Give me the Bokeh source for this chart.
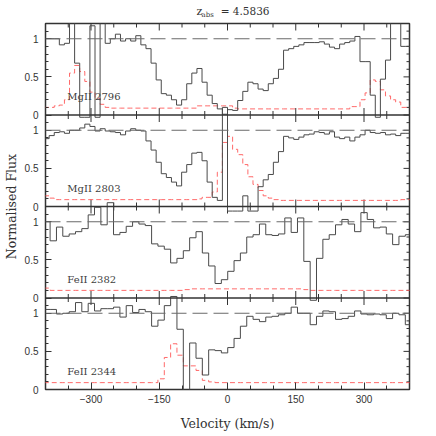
import numpy as np
from bokeh.plotting import figure
from bokeh.layouts import column
from bokeh.models import FixedTicker, Span
from bokeh.embed import file_html
from bokeh.resources import INLINE
from bokeh.core.properties import value

# ---------------- data ----------------
# velocity pixel edges (km/s), MgII spectra
vel_mg = [-403.2, -392.0, -380.8, -369.6, -358.4, -347.2, -336.0, -324.8, -313.6, -302.4,
          -291.2, -280.0, -268.8, -257.6, -246.4, -235.2, -224.0, -212.8, -201.6, -190.4,
          -179.2, -168.0, -156.8, -145.6, -134.4, -123.2, -112.0, -100.8, -89.6, -78.4,
          -67.2, -56.0, -44.8, -33.6, -22.4, -11.2, 0.0, 11.2, 22.4, 33.6,
          44.8, 56.0, 67.2, 78.4, 89.6, 100.8, 112.0, 123.2, 134.4, 145.6,
          156.8, 168.0, 179.2, 190.4, 201.6, 212.8, 224.0, 235.2, 246.4, 257.6,
          268.8, 280.0, 291.2, 302.4, 313.6, 324.8, 336.0, 347.2, 358.4, 369.6,
          380.8, 392.0, 403.2]
# velocity pixel edges (km/s), FeII spectra
vel_fe = [-403.8, -389.9, -375.9, -362.0, -348.0, -334.1, -320.2, -306.2, -292.3, -278.3,
          -264.4, -250.5, -236.5, -222.6, -208.6, -194.7, -180.8, -166.8, -152.9, -138.9,
          -125.0, -111.1, -97.1, -83.2, -69.2, -55.3, -41.4, -27.4, -13.5, 0.5,
          14.4, 28.3, 42.3, 56.2, 70.2, 84.1, 98.0, 112.0, 125.9, 139.9,
          153.8, 167.7, 181.7, 195.6, 209.6, 223.5, 237.4, 251.4, 265.3, 279.3,
          293.2, 307.1, 321.1, 335.0, 349.0, 362.9, 376.8, 390.8, 404.7]

flux_mg2796 = [1.0, 1.0, 1.0, 0.92, 0.94, 1.5, 0.68, -0.03, -0.03, 1.17,
               -0.03, 1.5, 0.94, 1.0, 1.06, 0.97, 1.0, 0.97, 1.04, 0.92,
               0.87, 0.68, 0.46, 0.28, 0.26, 0.2, 0.13, 0.2, 0.41, 0.55,
               0.61, 0.43, 0.26, 0.15, 0.08, 0.01, 0.07, 0.06, 0.19, 0.31,
               0.43, 0.41, 0.34, 0.32, 0.41, 0.48, 0.60, 0.85, 0.87, 0.90,
               0.92, 0.95, 0.95, 0.95, 0.96, 0.93, 0.89, 0.87, 0.93, 0.95,
               0.97, 1.03, 0.70, 0.70, 0.26, -0.03, 0.47, 0.72, 1.5, 1.5,
               0.9, 0.9]
err_mg2796 = [0.10, 0.10, 0.12, 0.13, 0.20, 0.55, 0.65, 0.57, 0.44, 0.30,
              0.22, 0.14, 0.10, 0.09, 0.09, 0.09, 0.09, 0.09, 0.09, 0.09,
              0.09, 0.09, 0.09, 0.09, 0.09, 0.09, 0.09, 0.09, 0.09, 0.09,
              0.12, 0.12, 0.12, 0.12, 0.12, 0.12, 0.12, 0.09, 0.08, 0.08,
              0.08, 0.08, 0.08, 0.08, 0.08, 0.08, 0.08, 0.08, 0.08, 0.08,
              0.08, 0.08, 0.08, 0.08, 0.08, 0.08, 0.08, 0.08, 0.08, 0.08,
              0.11, 0.11, 0.20, 0.29, 0.46, 0.44, 0.33, 0.25, 0.20, 0.17,
              0.10, 0.10]

flux_mg2803 = [0.89, 0.93, 0.97, 0.98, 0.96, 1.0, 1.0, 1.03, 1.08, 1.05,
               0.99, 1.02, 0.99, 0.98, 0.97, 0.94, 0.99, 1.02, 1.0, 0.99,
               0.86, 0.74, 0.58, 0.43, 0.38, 0.32, 0.27, 0.45, 0.55, 0.70,
               0.71, 0.60, 0.32, 0.12, 0.08, 1.3, -0.06, -0.06, -0.06, 0.14,
               -0.06, -0.06, 0.26, 0.35, 0.42, 0.58, 0.72, 0.92, 0.90, 0.88,
               0.91, 0.94, 0.95, 0.98, 0.97, 0.95, 0.98, 0.91, 0.89, 0.91,
               0.86, 0.91, 0.94, 1.0, 0.97, 0.96, 0.97, 0.94, 0.95, 0.93,
               0.96, 0.96]
err_mg2803 = [0.14, 0.11, 0.09, 0.09, 0.09, 0.09, 0.09, 0.09, 0.09, 0.09,
              0.09, 0.09, 0.09, 0.09, 0.09, 0.09, 0.09, 0.09, 0.09, 0.09,
              0.09, 0.09, 0.09, 0.09, 0.09, 0.09, 0.09, 0.09, 0.09, 0.09,
              0.10, 0.12, 0.12, 0.19, 0.45, 0.84, 0.92, 0.75, 0.68, 0.55,
              0.39, 0.29, 0.21, 0.14, 0.11, 0.09, 0.08, 0.08, 0.08, 0.08,
              0.08, 0.08, 0.08, 0.08, 0.08, 0.08, 0.08, 0.08, 0.08, 0.08,
              0.08, 0.08, 0.08, 0.08, 0.08, 0.08, 0.08, 0.08, 0.08, 0.08,
              0.09, 0.09]

flux_fe2382 = [1.0, 0.75, 0.93, 0.81, 0.84, 0.87, 0.91, 1.09, 1.19, 0.96,
               1.25, 0.83, 0.86, 0.94, 1.0, 0.97, 0.95, 0.71, 0.68, 0.64,
               0.46, 0.52, 0.62, 0.79, 0.87, 0.59, 0.42, 0.19, 0.24, 0.35,
               0.49, 0.59, 0.80, 0.83, 0.97, 0.83, 0.82, 0.84, 1.05, 0.86,
               1.05, 0.48, -0.03, 0.52, 0.77, 0.83, 0.96, 1.03, 0.97, 0.87,
               1.12, 1.03, 0.92, 0.93, 0.84, 0.70, 0.81, 0.83]
err_fe2382 = [0.13, 0.10, 0.10, 0.10, 0.10, 0.10, 0.10, 0.10, 0.10, 0.10,
              0.10, 0.10, 0.10, 0.10, 0.10, 0.10, 0.10, 0.10, 0.10, 0.10,
              0.10, 0.10, 0.11, 0.12, 0.12, 0.12, 0.12, 0.12, 0.12, 0.12,
              0.12, 0.12, 0.12, 0.12, 0.12, 0.12, 0.12, 0.12, 0.12, 0.12,
              0.12, 0.11, 0.10, 0.10, 0.10, 0.10, 0.10, 0.10, 0.10, 0.10,
              0.10, 0.10, 0.10, 0.10, 0.10, 0.10, 0.10, 0.10]

flux_fe2344 = [1.05, 1.05, 0.99, 1.0, 1.02, 1.14, 1.02, 1.13, 1.03, 1.06,
               1.06, 1.08, 0.95, 1.10, 1.01, 1.05, 1.02, 0.83, 0.91, 1.10,
               1.22, 0.79, -0.1, 0.61, 0.41, 0.19, 0.52, 0.51, 0.48, 0.55,
               0.67, 0.83, 0.96, 0.92, 0.89, 0.95, 0.96, 0.98, 1.0, 1.08,
               1.0, 1.0, 0.85, 0.96, 1.03, 1.02, 0.92, 0.93, 0.96, 1.03,
               0.99, 0.98, 0.99, 0.98, 0.93, 1.0, 0.98, 0.85]
err_fe2344 = [0.09, 0.09, 0.09, 0.09, 0.09, 0.09, 0.09, 0.09, 0.09, 0.09,
              0.09, 0.09, 0.09, 0.09, 0.09, 0.09, 0.09, 0.09, 0.14, 0.42,
              0.60, 0.45, 0.31, 0.31, 0.25, 0.12, 0.10, 0.09, 0.09, 0.09,
              0.09, 0.09, 0.09, 0.09, 0.09, 0.09, 0.09, 0.09, 0.09, 0.09,
              0.09, 0.09, 0.09, 0.09, 0.09, 0.09, 0.09, 0.09, 0.09, 0.09,
              0.09, 0.09, 0.09, 0.09, 0.09, 0.09, 0.09, 0.09]

line_labels = ["MgII 2796", "MgII 2803", "FeII 2382", "FeII 2344"]
title_parts = ["z", "abs", "=  4.5836"]
x_major = [-300, -150, 0, 150, 300]
x_minor = [-350, -250, -200, -100, -50, 50, 100, 200, 250, 350]
y_major = [0, 0.5, 1]
y_major_labels = ["0", "0.5", "1"]
continuum = 1.0

# ---------------- layout ----------------
PANEL_H = 1.2
N = 4
FRAME_W, FRAME_H = 364, 366
XMIN, XMAX = -400, 400
YMAX = PANEL_H * N
ypx = YMAX / FRAME_H                  # data units per pixel (vertical)
xpx = (XMAX - XMIN) / FRAME_W         # data units per pixel (horizontal)
TITLE_H = 21
BORDER_L, BORDER_R = 39, 17

panels = [
    (vel_mg, flux_mg2796, err_mg2796),
    (vel_mg, flux_mg2803, err_mg2803),
    (vel_fe, flux_fe2382, err_fe2382),
    (vel_fe, flux_fe2344, err_fe2344),
]
offsets = [round((N - 1 - i) * PANEL_H, 6) for i in range(N)]

SERIF = "DejaVu Serif"
SANS = "Liberation Sans"
INK = "#333333"

# ---------- title strip ----------
t = figure(frame_width=FRAME_W, frame_height=TITLE_H, x_range=(XMIN, XMAX),
           y_range=(0, TITLE_H), output_backend="svg", toolbar_location=None,
           title=None, x_axis_location=None, y_axis_location=None,
           min_border_left=BORDER_L, min_border_right=BORDER_R,
           min_border_top=0, min_border_bottom=0)
t.outline_line_color = None
t.grid.visible = False
t.text(x=[-68], y=[10.5], text=[title_parts[0]], text_font=value(SERIF),
       text_font_size="11px", text_color=INK, text_baseline="middle")
t.text(x=[-57], y=[7.0], text=[title_parts[1]], text_font=value(SERIF),
       text_font_size="7px", text_color=INK, text_baseline="middle")
t.text(x=[-15], y=[10.5], text=[title_parts[2]], text_font=value(SERIF),
       text_font_size="10.5px", text_color=INK, text_baseline="middle")

# ---------- main stacked panels ----------
p = figure(frame_width=FRAME_W, frame_height=FRAME_H,
           x_range=(XMIN, XMAX), y_range=(0, YMAX), title=None,
           output_backend="svg", toolbar_location=None,
           min_border_left=BORDER_L, min_border_right=BORDER_R,
           min_border_top=2, min_border_bottom=39)
p.grid.visible = False
p.outline_line_color = INK
p.outline_line_width = 1.5

yt_major, yt_minor, yt_over = [], [], {}
for o in offsets:
    for tv, lab in zip(y_major, y_major_labels):
        v = round(o + tv, 6)
        yt_major.append(v)
        yt_over[v] = lab
    for m in range(1, 12):
        if m in (5, 10):
            continue
        yt_minor.append(round(o + 0.1 * m, 6))
yt_major = sorted(yt_major)
x_over = {tv: (("\u2212" + str(abs(tv))) if tv < 0 else str(tv)) for tv in x_major}

def style_axis(ax):
    ax.major_tick_in = 7
    ax.major_tick_out = 0
    ax.minor_tick_in = 4
    ax.minor_tick_out = 0
    ax.major_tick_line_color = INK
    ax.minor_tick_line_color = INK
    ax.axis_line_color = None
    ax.major_label_text_font = SANS
    ax.major_label_text_font_size = "10px"
    ax.major_label_text_color = INK
    ax.axis_label_text_font = SERIF
    ax.axis_label_text_font_size = "12.5px"
    ax.axis_label_text_font_style = "normal"
    ax.axis_label_text_color = INK

yl = p.yaxis[0]
yl.ticker = FixedTicker(ticks=yt_major, minor_ticks=yt_minor)
yl.major_label_overrides = yt_over
style_axis(yl)
yl.major_tick_in = 6
yl.minor_tick_in = 3
yl.major_label_standoff = 7
yl.axis_label = "Normalised Flux"
yl.axis_label_standoff = 3

xb = p.xaxis[0]
xb.ticker = FixedTicker(ticks=x_major, minor_ticks=x_minor)
xb.major_label_overrides = x_over
style_axis(xb)
xb.major_label_standoff = 5
xb.axis_label = "Velocity (km/s)"
xb.axis_label_standoff = 10

# ticks on the top edge
for ticks, L in ((x_major, 7 * ypx), (x_minor, 4 * ypx)):
    p.segment(x0=ticks, y0=[YMAX - L] * len(ticks), x1=ticks, y1=[YMAX] * len(ticks),
              line_color=INK, line_width=1)
# ticks on the right edge
for ticks, L in ((yt_major, 6 * xpx), (yt_minor, 3 * xpx)):
    p.segment(x0=[XMAX - L] * len(ticks), y0=ticks, x1=[XMAX] * len(ticks), y1=ticks,
              line_color=INK, line_width=1)

# internal panel boundaries with ticks on both sides
for b in offsets[:-1]:
    p.add_layout(Span(location=b, dimension="width", line_color=INK, line_width=1.5))
    for ticks, L in ((x_major, 7 * ypx), (x_minor, 4 * ypx)):
        p.segment(x0=ticks, y0=[b - L] * len(ticks), x1=ticks, y1=[b + L] * len(ticks),
                  line_color=INK, line_width=1)

# spectra
for (vel, flux, err), o in zip(panels, offsets):
    x = np.array(vel)
    f = np.append(flux, flux[-1]) + o
    e = np.append(err, err[-1]) + o
    p.step(x, e, mode="after", line_color="#ff5a5a", line_width=1, line_dash="5 3",
           line_alpha=0.9)
    p.step(x, f, mode="after", line_color="#4a4a4a", line_width=1)
    p.add_layout(Span(location=o + continuum, dimension="width", line_color="#6a6a6a",
                      line_width=1, line_dash="15 6"))

p.text(x=[-352] * N, y=[o + 0.24 for o in offsets], text=line_labels,
       text_font=value(SERIF), text_font_size="10px", text_baseline="middle",
       text_color="#404040")

layout = column(t, p, spacing=0)
open("out.html", "w").write(file_html(layout, INLINE))
